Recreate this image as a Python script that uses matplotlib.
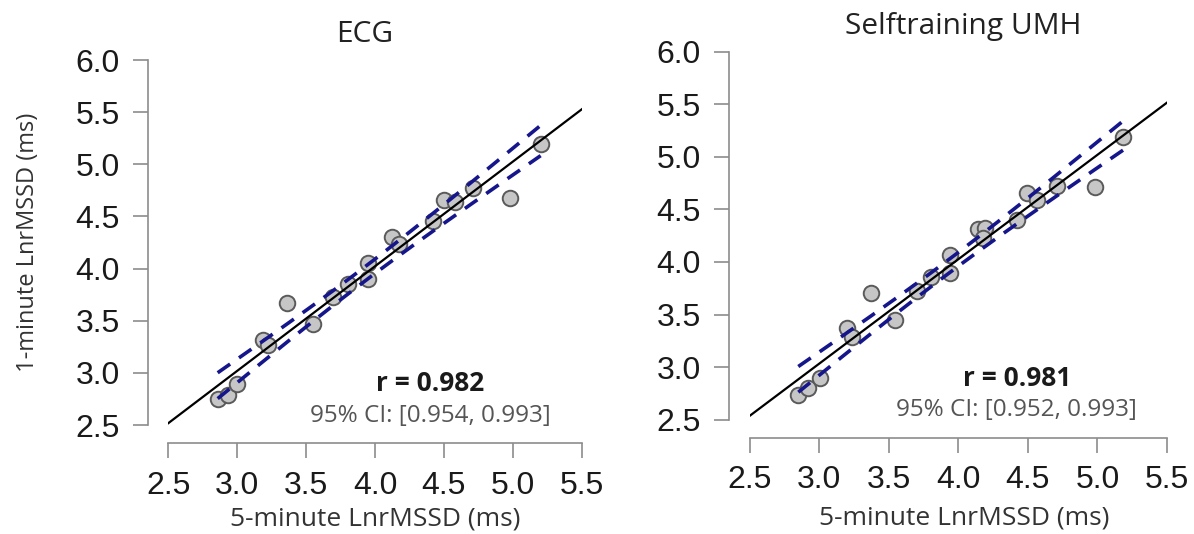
import numpy as np
import matplotlib
matplotlib.use('Agg')
import matplotlib.pyplot as plt

# 5-minute vs 1-minute LnrMSSD
ecg_x = [2.858, 2.935, 3.000, 3.358, 3.189, 3.225, 3.552, 3.692, 3.806, 3.951,
         3.951, 4.120, 4.176, 4.418, 4.500, 4.580, 4.708, 4.979, 5.202]
ecg_y = [2.746, 2.787, 2.893, 3.672, 3.314, 3.266, 3.467, 3.729, 3.851, 4.049,
         3.898, 4.304, 4.240, 4.457, 4.655, 4.639, 4.777, 4.681, 5.198]

umh_x = [2.850, 2.922, 3.006, 3.370, 3.197, 3.233, 3.545, 3.700, 3.801, 3.940,
         3.940, 4.143, 4.191, 4.180, 4.419, 4.495, 4.562, 4.711, 4.981, 5.185]
umh_y = [2.734, 2.798, 2.893, 3.702, 3.369, 3.289, 3.448, 3.727, 3.854, 4.066,
         3.898, 4.311, 4.320, 4.225, 4.399, 4.653, 4.589, 4.723, 4.716, 5.186]

titles = ['ECG', 'Selftraining UMH']
r_texts = ['r = 0.982', 'r = 0.981']
ci_texts = ['95% CI: [0.954, 0.993]', '95% CI: [0.952, 0.993]']
x_ticks = [2.5, 3.0, 3.5, 4.0, 4.5, 5.0, 5.5]
y_ticks = [2.5, 3.0, 3.5, 4.0, 4.5, 5.0, 5.5, 6.0]
t_crit = {17: 2.110, 18: 2.101}

plt.rcParams['font.family'] = ['Liberation Sans', 'DejaVu Sans']
LABEL_FONT = 'Open Sans'
AXIS_GREY = '#8c8c8c'

fig = plt.figure(figsize=(11.94, 5.34), dpi=100)
panels = [
    # rect, title x, xlabel x, xlabel y, ylabel?
    ([0.1410, 0.2041, 0.3462, 0.6835], 0.476, 0.50, -0.222, True),
    ([0.6278, 0.2142, 0.3496, 0.6888], 0.513, 0.513, -0.234, False),
]
data = [(ecg_x, ecg_y), (umh_x, umh_y)]
text_pos = [(4.40, 2.90, 2.586), (4.42, 2.896, 2.591)]

for i, (rect, tx, lx, ly, show_ylab) in enumerate(panels):
    ax = fig.add_axes(rect)
    x = np.array(data[i][0])
    y = np.array(data[i][1])
    n = len(x)

    # regression + 95% confidence band
    b, a = np.polyfit(x, y, 1)
    resid = y - (a + b * x)
    s = np.sqrt(np.sum(resid ** 2) / (n - 2))
    sxx = np.sum((x - x.mean()) ** 2)
    xs = np.linspace(x.min(), x.max(), 200)
    half = t_crit[n - 2] * s * np.sqrt(1.0 / n + (xs - x.mean()) ** 2 / sxx)
    fit = a + b * xs

    xl = np.array([2.5, 5.5])
    ax.plot(xl, a + b * xl, color='black', lw=1.6, zorder=3)
    for band in (fit + half, fit - half):
        ax.plot(xs, band, color='#16168c', lw=2.6, dashes=(4.2, 3.0), zorder=4)
    ax.scatter(x, y, s=125, facecolor='#c6c6c6', edgecolor='#5a5a5a',
               linewidth=1.4, zorder=2)

    ax.set_xlim(2.5, 5.5)
    ax.set_ylim(2.5, 6.0)
    ax.set_xticks(x_ticks)
    ax.set_yticks(y_ticks)
    ax.set_xticklabels(['%.1f' % v for v in x_ticks])
    ax.set_yticklabels(['%.1f' % v for v in y_ticks])

    for side in ('top', 'right'):
        ax.spines[side].set_visible(False)
    ax.spines['left'].set_position(('outward', 15))
    ax.spines['bottom'].set_position(('outward', 13))
    ax.spines['left'].set_bounds(2.5, 6.0)
    ax.spines['bottom'].set_bounds(2.5, 5.5)
    for side in ('left', 'bottom'):
        ax.spines[side].set_color(AXIS_GREY)
        ax.spines[side].set_linewidth(1.2)
    ax.tick_params(axis='both', direction='out', length=11, width=1.2,
                   color=AXIS_GREY, labelsize=23, labelcolor='#1a1a1a', pad=9)
    ax.patch.set_visible(False)

    ax.set_title(titles[i], x=tx, pad=13, fontsize=21.5, family=LABEL_FONT,
                 color='#222222')
    ax.set_xlabel('5-minute LnrMSSD (ms)', fontsize=19, family=LABEL_FONT,
                  color='#333333')
    ax.xaxis.set_label_coords(lx, ly)
    if show_ylab:
        ax.set_ylabel('1-minute LnrMSSD (ms)', fontsize=17, family=LABEL_FONT,
                      color='#333333')
        ax.yaxis.set_label_coords(-0.31, 0.5)

    px, ry, cy = text_pos[i]
    ax.text(px, ry, r_texts[i], ha='center', va='center', fontsize=19,
            fontweight='bold', family=LABEL_FONT, color='#1a1a1a')
    ax.text(px, cy, ci_texts[i], ha='center', va='center', fontsize=17.5,
            family=LABEL_FONT, color='#555555')

fig.savefig('out.png', dpi=100)
